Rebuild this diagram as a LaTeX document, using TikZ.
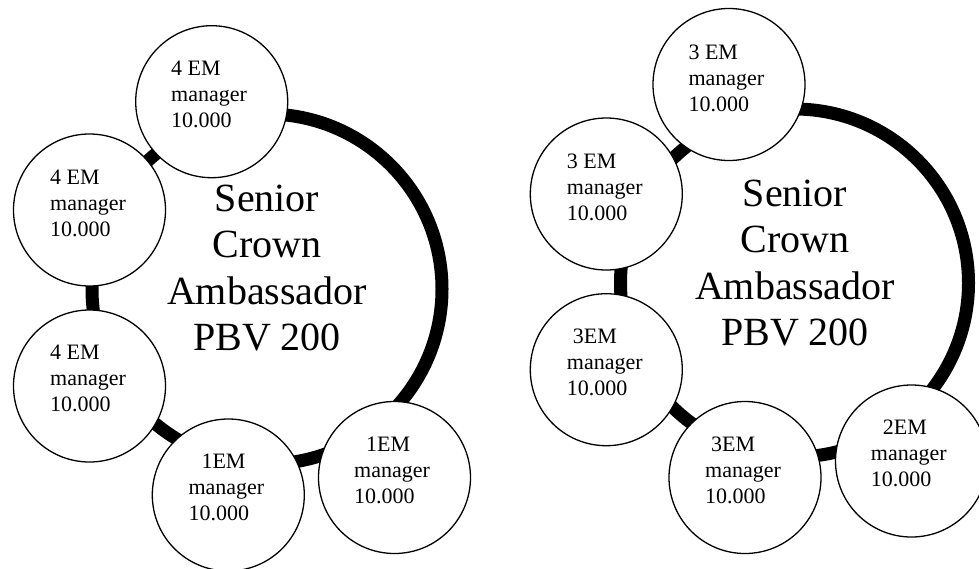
\documentclass[tikz,border=0pt]{standalone}
\usepackage{fontspec}
\setmainfont{Liberation Serif}

\tikzset{
    ring/.style={circle, draw, line width=13pt, minimum size=350pt, inner sep=0pt},
    member/.style={circle, draw, line width=1.3pt, fill=white, minimum size=152pt, inner sep=0pt},
    memtext/.style={anchor=north west, align=left, inner sep=0pt, font=\fontsize{22}{26}\selectfont},
    centretext/.style={anchor=north, align=center, inner sep=0pt, font=\fontsize{40}{46.5}\selectfont}
}

\begin{document}
\begin{tikzpicture}[x=1pt,y=-1pt]

        \useasboundingbox (0,0) rectangle (979,568);

        \node[ring] (ringA) at (267,289) {};

        \node[member] (a1) at (211.7,101.7) {};
        \node[member] (a2) at (89.5,210) {};
        \node[member] (a3) at (89.5,386) {};
        \node[member] (a4) at (228.3,495) {};
        \node[member] (a5) at (394.5,477.5) {};

        \node[memtext] (a1t) at (171,61) {4 EM\\manager\\10.000};
        \node[memtext] (a2t) at (50,170.1) {4 EM\\manager\\10.000};
        \node[memtext] (a3t) at (50,344.4) {4 EM\\manager\\10.000};
        \node[memtext] (a4t) at (188.3,453.4) {\hspace*{13pt}1EM\\manager\\10.000};
        \node[memtext] (a5t) at (354,436.8) {\hspace*{12pt}1EM\\manager\\10.000};

        \node[centretext] (titleA) at (267,184.4) {Senior\\Crown\\Ambassador\\PBV 200};

        \node[ring, minimum size=348pt] (ringB) at (794.5,283) {};

        \node[member] (b1) at (729,84.5) {};
        \node[member] (b2) at (606.3,194) {};
        \node[member] (b3) at (606.3,369.7) {};
        \node[member] (b4) at (745,477.5) {};
        \node[member] (b5) at (911.5,461) {};

        \node[memtext] (b1t) at (688.3,45.1) {3 EM\\manager\\10.000};
        \node[memtext] (b2t) at (566.7,153.4) {3 EM\\manager\\10.000};
        \node[memtext] (b3t) at (566.7,328.4) {\hspace*{6pt}3EM\\manager\\10.000};
        \node[memtext] (b4t) at (705,436.8) {\hspace*{6pt}3EM\\manager\\10.000};
        \node[memtext] (b5t) at (870.7,420.1) {\hspace*{12pt}2EM\\manager\\10.000};

        \node[centretext] (titleB) at (795,179.4) {Senior\\Crown\\Ambassador\\PBV 200};

\end{tikzpicture}
\end{document}
